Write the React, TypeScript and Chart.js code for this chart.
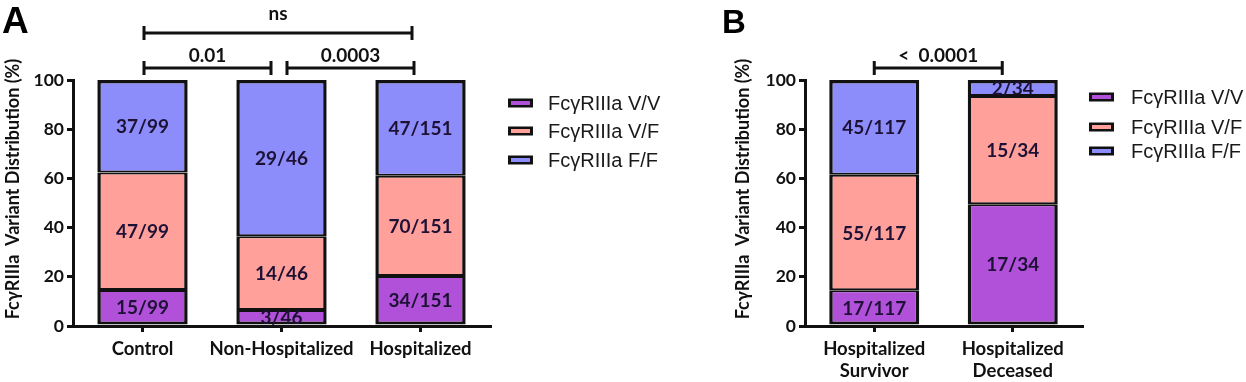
import React, { useEffect, useRef } from "react";
import { Chart, registerables } from "chart.js";

Chart.register(...registerables);

// ---------- data ----------
const seriesNames = ["FcγRIIIa V/V", "FcγRIIIa V/F", "FcγRIIIa F/F"];
const seriesColors = ["#B150D8", "#FFA09B", "#8C8CFA"];

const categoriesA = ["Control", "Non-Hospitalized", "Hospitalized"];
const vvA = [14.6, 6.5, 20.3];
const vfA = [47.8, 30.0, 40.8];
const ffA = [37.6, 63.5, 38.9];
const vvLabelsA = ["15/99", "3/46", "34/151"];
const vfLabelsA = ["47/99", "14/46", "70/151"];
const ffLabelsA = ["37/99", "29/46", "47/151"];

const categoriesB = [
  ["Hospitalized", "Survivor"],
  ["Hospitalized", "Deceased"],
];
const vvB = [14.5, 49.5];
const vfB = [47.0, 44.0];
const ffB = [38.5, 6.5];
const vvLabelsB = ["17/117", "17/34"];
const vfLabelsB = ["55/117", "15/34"];
const ffLabelsB = ["45/117", "2/34"];

const yTickValues = [0, 20, 40, 60, 80, 100];
const yTitle = "FcγRIIIa  Variant Distribution (%)";

const bracketsA = [
  { from: 0, to: 2, text: "ns", row: 0 },
  { from: 0, to: 1, text: "0.01", row: 1 },
  { from: 1, to: 2, text: "0.0003", row: 1 },
];
const bracketsB = [{ from: 0, to: 1, text: "<  0.0001", row: 1 }];

// ---------- styling ----------
const INK = "#111111";
const LABEL_INK = "#1d1235";
const FONT = "Lato, 'Open Sans', sans-serif";
const LEGEND_FONT = "'Liberation Sans', Arial, sans-serif";

// bracket endpoint nudges (pixels) per bracket, in the same order
const bracketNudgeA = [
  [1.5, -8.5],
  [1.5, -10.5],
  [5.5, -6.5],
];
const bracketNudgeB = [[0, -10.5]];
const bracketRows = [
  { line: -47, text: -60 },
  { line: -12, text: -18 },
];

const borders = [
  { top: 2, bottom: 3, left: 3.5, right: 3.5 },
  { top: 2, bottom: 2, left: 3.5, right: 3.5 },
  { top: 3.5, bottom: 2, left: 3.5, right: 3.5 },
];

const annotatePlugin = {
  id: "annotate",
  afterDraw(chart: any, _args: any, opts: any) {
    const ctx: CanvasRenderingContext2D = chart.ctx;
    const area = chart.chartArea;
    const xs = chart.scales.x;
    ctx.save();

    // value labels inside segments
    ctx.font = `bold 19px ${FONT}`;
    ctx.fillStyle = LABEL_INK;
    ctx.textAlign = "center";
    ctx.textBaseline = "middle";
    chart.data.datasets.forEach((_ds: any, di: number) => {
      const meta = chart.getDatasetMeta(di);
      meta.data.forEach((el: any, i: number) => {
        const p = el.getProps(["x", "y", "base"], true);
        const txt = opts.labels[di][i];
        ctx.fillText(txt, p.x, (p.y + p.base) / 2 + 1);
      });
    });

    // significance brackets
    ctx.strokeStyle = INK;
    ctx.lineWidth = 3;
    opts.brackets.forEach((b: any, bi: number) => {
      const n = opts.nudges[bi];
      const x1 = xs.getPixelForValue(b.from) + n[0];
      const x2 = xs.getPixelForValue(b.to) + n[1];
      const row = bracketRows[b.row];
      const ly = area.top + row.line;
      ctx.beginPath();
      ctx.moveTo(x1, ly);
      ctx.lineTo(x2, ly);
      ctx.moveTo(x1, ly - 7);
      ctx.lineTo(x1, ly + 7);
      ctx.moveTo(x2, ly - 7);
      ctx.lineTo(x2, ly + 7);
      ctx.stroke();
      ctx.font = `bold 19px ${FONT}`;
      ctx.fillStyle = INK;
      ctx.textAlign = "center";
      ctx.textBaseline = "alphabetic";
      ctx.fillText(b.text, (x1 + x2) / 2, area.top + row.text);
    });

    // legend
    chart.data.datasets.forEach((ds: any, di: number) => {
      const cy = opts.legendYs[di];
      const lx = opts.legendX;
      ctx.fillStyle = INK;
      ctx.fillRect(lx, cy - 4.5, 25, 9);
      ctx.fillStyle = ds.backgroundColor;
      ctx.fillRect(lx + 3, cy - 2, 19, 4);
      ctx.font = `20px ${LEGEND_FONT}`;
      ctx.fillStyle = "#1a1a1a";
      ctx.textAlign = "left";
      ctx.textBaseline = "middle";
      ctx.fillText(ds.label, lx + opts.legendTextDx, cy + 1);
    });

    // y-axis title
    ctx.save();
    ctx.translate(opts.titleX, opts.titleY);
    ctx.rotate(-Math.PI / 2);
    ctx.font = `bold 18px ${FONT}`;
    ctx.fillStyle = INK;
    ctx.textAlign = "center";
    ctx.textBaseline = "middle";
    ctx.fillText(yTitle, 0, 0);
    ctx.restore();

    // panel letter
    ctx.font = `bold ${opts.letterSize}px ${LEGEND_FONT}`;
    ctx.fillStyle = "#000";
    ctx.textAlign = "left";
    ctx.textBaseline = "alphabetic";
    ctx.fillText(opts.letter, opts.letterX, 33);

    ctx.restore();
  },
};

type PanelProps = {
  left: number;
  width: number;
  categories: any[];
  series: number[][];
  labels: string[][];
  brackets: any[];
  nudges: number[][];
  yAxisWidth: number;
  padRight: number;
  legendX: number;
  legendYs: number[];
  legendTextDx: number;
  titleX: number;
  letter: string;
  letterX: number;
  letterSize: number;
};

function Panel(p: PanelProps) {
  const ref = useRef<HTMLCanvasElement>(null);
  useEffect(() => {
    if (!ref.current) return;
    const chart = new Chart(ref.current, {
      type: "bar",
      data: {
        labels: p.categories,
        datasets: p.series.map((vals, i) => ({
          label: seriesNames[i],
          data: vals,
          backgroundColor: seriesColors[i],
          borderColor: INK,
          borderWidth: borders[i] as any,
          borderSkipped: false as any,
          barPercentage: 0.65,
          categoryPercentage: 1,
        })),
      },
      options: {
        animation: false,
        responsive: false,
        devicePixelRatio: 1,
        layout: { padding: { top: 80, right: p.padRight, bottom: 0, left: 0 } },
        plugins: {
          legend: { display: false },
          tooltip: { enabled: false },
          annotate: {
            labels: p.labels,
            brackets: p.brackets,
            nudges: p.nudges,
            legendX: p.legendX,
            legendYs: p.legendYs,
            legendTextDx: p.legendTextDx,
            titleX: p.titleX,
            titleY: 189,
            letter: p.letter,
            letterX: p.letterX,
            letterSize: p.letterSize,
          },
        } as any,
        scales: {
          x: {
            stacked: true,
            afterFit: (s: any) => {
              s.height = 56;
            },
            grid: {
              display: true,
              drawOnChartArea: false,
              drawTicks: true,
              offset: false,
              tickLength: 6,
              lineWidth: 3,
              color: INK,
            },
            border: { display: true, width: 3, color: INK },
            ticks: {
              color: INK,
              padding: 6,
              maxRotation: 0,
              autoSkip: false,
              font: { family: FONT, size: 18.5, weight: "bold", lineHeight: 1.18 },
            },
          },
          y: {
            stacked: true,
            min: 0,
            max: 100,
            afterFit: (s: any) => {
              s.width = p.yAxisWidth;
            },
            afterBuildTicks: (s: any) => {
              s.ticks = yTickValues.map((v) => ({ value: v }));
            },
            grid: {
              display: true,
              drawOnChartArea: false,
              drawTicks: true,
              tickLength: 6,
              lineWidth: 3,
              color: INK,
            },
            border: { display: true, width: 3, color: INK },
            ticks: {
              color: INK,
              padding: 3,
              font: { family: FONT, size: 17.5, weight: "bold" },
            },
          },
        },
      },
      plugins: [annotatePlugin],
    });
    return () => chart.destroy();
  }, []);
  return (
    <canvas
      ref={ref}
      width={p.width}
      height={382}
      style={{ position: "absolute", left: p.left, top: 0, width: p.width, height: 382 }}
    />
  );
}

export default function App() {
  return (
    <div
      style={{
        position: "absolute",
        left: 0,
        top: 0,
        width: 1246,
        height: 382,
        background: "#fff",
        overflow: "hidden",
      }}
    >
      <Panel
        left={0}
        width={700}
        categories={categoriesA}
        series={[vvA, vfA, ffA]}
        labels={[vvLabelsA, vfLabelsA, ffLabelsA]}
        brackets={bracketsA}
        nudges={bracketNudgeA}
        yAxisWidth={73}
        padRight={210}
        legendX={508}
        legendYs={[103, 131, 160]}
        legendTextDx={40}
        titleX={13.5}
        letter="A"
        letterX={2}
        letterSize={37}
      />
      <Panel
        left={700}
        width={546}
        categories={categoriesB}
        series={[vvB, vfB, ffB]}
        labels={[vvLabelsB, vfLabelsB, ffLabelsB]}
        brackets={bracketsB}
        nudges={bracketNudgeB}
        yAxisWidth={105}
        padRight={164}
        legendX={389}
        legendYs={[97, 127, 151]}
        legendTextDx={42}
        titleX={43}
        letter="B"
        letterX={22}
        letterSize={33}
      />
    </div>
  );
}
